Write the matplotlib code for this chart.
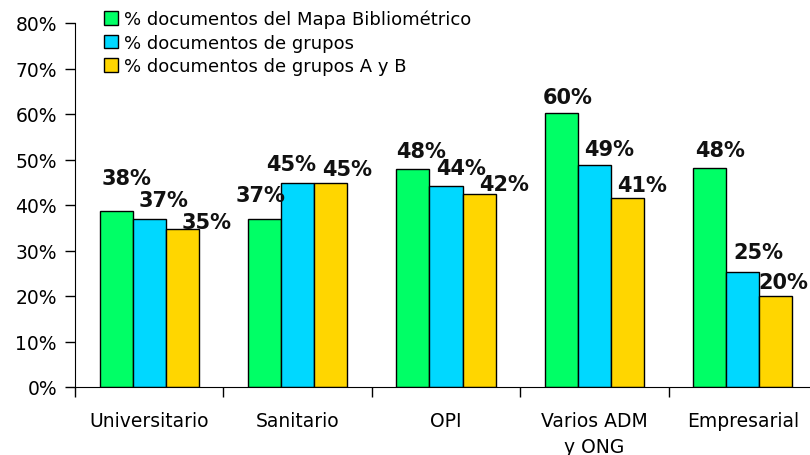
import matplotlib.pyplot as plt
import numpy as np

categories = ['Universitario', 'Sanitario', 'OPI', 'Varios ADM\ny ONG', 'Empresarial']
series_names = ['% documentos del Mapa Bibliométrico',
                '% documentos de grupos',
                '% documentos de grupos A y B']
mapa = [38.6, 36.9, 47.9, 60.2, 48.1]
grupos = [36.9, 44.8, 44.2, 48.8, 25.3]
grupos_ab = [34.7, 44.8, 42.4, 41.5, 20.0]
labels_mapa = ['38%', '37%', '48%', '60%', '48%']
labels_grupos = ['37%', '45%', '44%', '49%', '25%']
labels_ab = ['35%', '45%', '42%', '41%', '20%']

colors = ['#00FF66', '#00D8FF', '#FFD600']

# label placement (pixels from bar top centre), irregular like the original
label_dx = [[10, -4, 8, 6, 10],
            [14, -6, 15, 15, 16],
            [24, 16, 25, 15, 7]]
label_dy = [[23, 14, 8, 6, 8],
            [9, 9, 8, 6, 10],
            [-3, 4, 0, 3, 4]]

fig = plt.figure(figsize=(8.1, 4.56), dpi=100)
ax = fig.add_axes([75 / 810, 1 - 388 / 456, 742 / 810, 364 / 456])

x = np.arange(len(categories))
w = 0.223
data = [mapa, grupos, grupos_ab]
labels = [labels_mapa, labels_grupos, labels_ab]
handles = []
for i, (vals, labs) in enumerate(zip(data, labels)):
    pos = x + (i - 1) * w
    b = ax.bar(pos, vals, w, color=colors[i], edgecolor='black', linewidth=1,
               label=series_names[i])
    handles.append(b)
    for j, (p, v, t) in enumerate(zip(pos, vals, labs)):
        ax.annotate(t, (p, v),
                    xytext=(label_dx[i][j] * 0.72, label_dy[i][j] * 0.72),
                    textcoords='offset points', ha='center', va='bottom',
                    fontsize=15, fontweight='bold', color='#111111',
                    annotation_clip=False)

ax.set_xlim(-0.5, 4.5)
ax.set_ylim(0, 80)
ax.set_yticks(np.arange(0, 81, 10))
ax.set_yticklabels([f'{v}%' for v in range(0, 81, 10)], fontsize=13.5)
ax.set_xticks(x)
ax.set_xticklabels(categories, fontsize=13.5, linespacing=1.5)
ax.set_xticks(np.arange(-0.5, 4.6, 1), minor=True)
ax.tick_params(axis='x', which='major', length=0, pad=17)
ax.tick_params(axis='x', which='minor', length=7, width=1)
ax.tick_params(axis='y', length=7, width=1, pad=6)
ax.spines['top'].set_visible(False)
ax.spines['right'].set_visible(False)

fig.legend(handles=handles, loc='upper left', bbox_to_anchor=(93 / 810, 1.0),
           frameon=False, fontsize=13, handlelength=0.8, handleheight=0.8,
           handletextpad=0.3, labelspacing=0.3, borderaxespad=0.2)

plt.savefig('out.png', dpi=100)
plt.close()
